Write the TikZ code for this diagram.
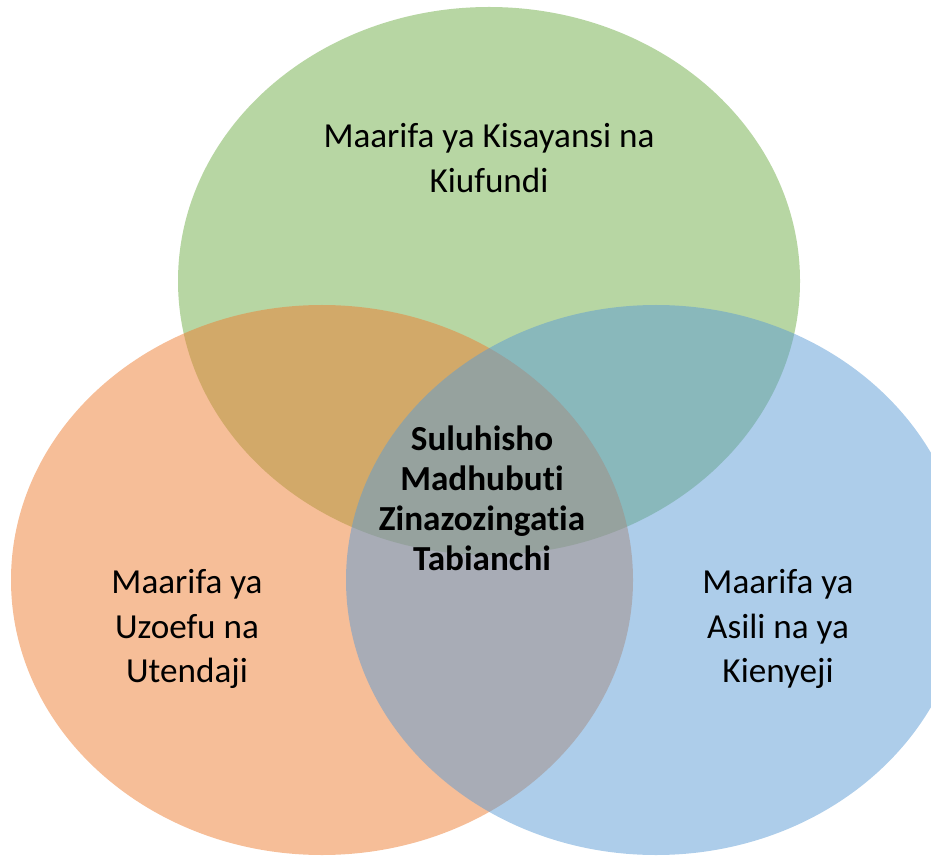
\documentclass[tikz,border=0pt]{standalone}
\usepackage{fontspec}
\setmainfont[Ligatures=NoCommon]{Carlito}
\usepackage{xcolor}
\usepackage{tikz}
\usetikzlibrary{positioning}
\definecolor{sciGreen}{HTML}{70AD47}
\definecolor{expOrange}{HTML}{ED7D31}
\definecolor{indBlue}{HTML}{5B9BD5}

\begin{document}
\begin{tikzpicture}[x=0.2mm, y=-0.2mm]
    \clip (0,0) rectangle (931,856);
    \fill[sciGreen, fill opacity=0.5] (489,281) ellipse (311 and 274);
    \fill[expOrange, fill opacity=0.5] (322,580) ellipse (311 and 275);
    \fill[indBlue, fill opacity=0.5] (656,580) ellipse (310 and 275);
    \node[align=center, font=\fontsize{20}{25.5}\selectfont] (sci) at (489, 158) {Maarifa ya Kisayansi na\\Kiufundi};
    \node[align=center, font=\fontsize{20}{25.5}\selectfont] (exp) at (187, 629) {Maarifa ya\\Uzoefu na\\Utendaji};
    \node[align=center, font=\fontsize{20}{25.5}\selectfont] (ind) at (778, 629) {Maarifa ya\\Asili na ya\\Kienyeji};
    \node[align=center, font=\fontsize{20}{22.7}\selectfont\bfseries] (sol) at (482, 498) {Suluhisho\\Madhubuti\\Zinazozingatia\\Tabianchi};
  \end{tikzpicture}
\end{document}
